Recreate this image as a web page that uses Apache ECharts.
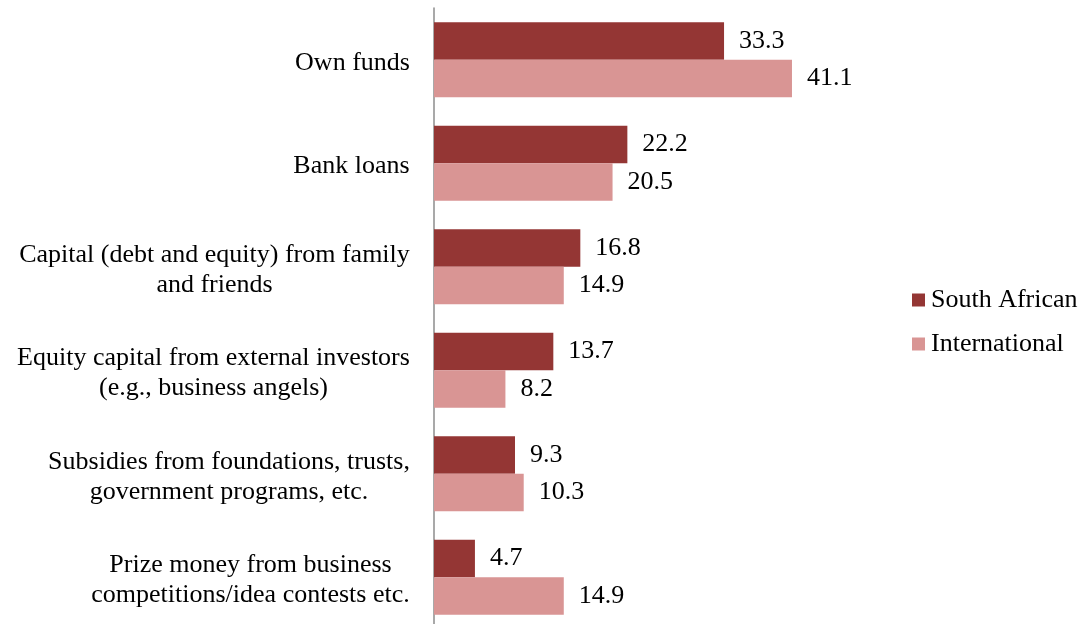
<!DOCTYPE html>
<html>
<head>
<meta charset="utf-8">
<script src="https://cdn.jsdelivr.net/npm/echarts@6/dist/echarts.min.js"></script>
<style>
  html, body { margin: 0; padding: 0; background: #ffffff; }
  #chart { width: 1083px; height: 624px; }
</style>
</head>
<body>
<div id="chart"></div>
<script>
// Sources of start-up funding (%), by founder group
const categories = [
  'Own funds',
  'Bank loans',
  'Capital (debt and equity) from family\nand friends',
  'Equity capital from external investors\n(e.g., business angels)',
  'Subsidies from foundations, trusts,\ngovernment programs, etc.',
  'Prize money from business\ncompetitions/idea contests etc.'
];
const seriesNames = ['South African', 'International'];
const southAfrican = [33.3, 22.2, 16.8, 13.7, 9.3, 4.7];
const international = [41.1, 20.5, 14.9, 8.2, 10.3, 14.9];

const FONT = '"Liberation Serif", "Times New Roman", serif';
const FONT_SIZE = 26;

// Each category label is a right-anchored block whose lines are centred
// within it; a rich style per label gives every line the block's width.
const measureCtx = document.createElement('canvas').getContext('2d');
measureCtx.font = FONT_SIZE + 'px ' + FONT;
const rich = {};
categories.forEach((c, i) => {
  const w = Math.max(...c.split('\n').map(l => measureCtx.measureText(l).width));
  rich['c' + i] = {
    width: Math.ceil(w),
    align: 'center',
    fontFamily: FONT,
    fontSize: FONT_SIZE,
    lineHeight: 30,
    color: '#000000'
  };
});

const chart = echarts.init(document.getElementById('chart'), null, { renderer: 'canvas' });
chart.setOption({
  animation: false,
  backgroundColor: '#ffffff',
  textStyle: { fontFamily: FONT },
  grid: {
    left: 434, top: 8, width: 435.5, height: 621,
    containLabel: false,
    outerBoundsMode: 'none'
  },
  legend: {
    orient: 'vertical',
    left: 907,
    top: 282,
    itemWidth: 13,
    itemHeight: 13,
    itemGap: 18,
    icon: 'rect',
    textStyle: { fontFamily: FONT, fontSize: FONT_SIZE, color: '#000000', padding: [0, 0, 0, 1] },
    data: seriesNames
  },
  xAxis: {
    type: 'value',
    min: 0,
    max: 50,
    show: false
  },
  yAxis: {
    type: 'category',
    inverse: true,
    data: categories,
    axisLine: { show: true, lineStyle: { color: '#8c8c8c', width: 1.5 } },
    axisTick: { show: false },
    splitLine: { show: false },
    axisLabel: {
      margin: 24,
      padding: [6, 0, 0, 0],
      formatter: (value, idx) =>
        value.split('\n').map(l => '{c' + idx + '|' + l + '}').join('\n'),
      rich: rich
    }
  },
  series: [
    {
      name: seriesNames[0],
      type: 'bar',
      data: southAfrican,
      barGap: '0%',
      barCategoryGap: '27.5%',
      itemStyle: { color: '#943634' },
      label: {
        show: true,
        position: 'right',
        distance: 15,
        padding: [4, 0, 0, 0],
        fontFamily: FONT,
        fontSize: FONT_SIZE,
        color: '#000000',
        formatter: p => p.value.toFixed(1)
      }
    },
    {
      name: seriesNames[1],
      type: 'bar',
      data: international,
      barGap: '0%',
      barCategoryGap: '27.5%',
      itemStyle: { color: '#d99594' },
      label: {
        show: true,
        position: 'right',
        distance: 15,
        padding: [4, 0, 0, 0],
        fontFamily: FONT,
        fontSize: FONT_SIZE,
        color: '#000000',
        formatter: p => p.value.toFixed(1)
      }
    }
  ]
});
</script>
</body>
</html>
